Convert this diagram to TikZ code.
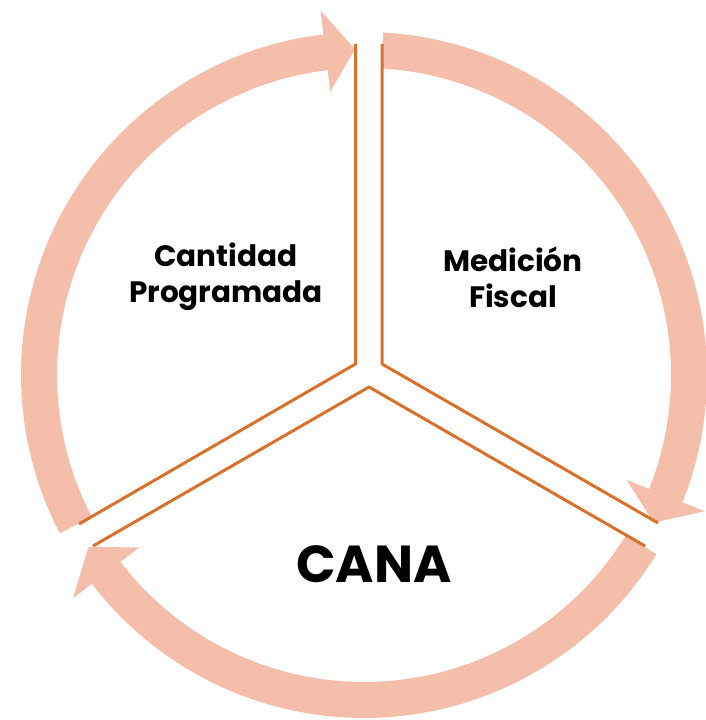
\documentclass[tikz,border=0pt]{standalone}
\usepackage{fontspec}
\setmainfont{Poppins}
\definecolor{salmon}{HTML}{F4BEAA}
\definecolor{rust}{HTML}{D9712B}
\begin{document}
\begin{tikzpicture}[x=1pt,y=1pt,
  arr/.style={fill=salmon,draw=none},
  sep/.style={draw=rust,line width=3pt,line join=miter},
  lbl/.style={font=\bfseries\fontsize{29.5}{36}\selectfont,align=center,text=black},
  big/.style={font=\bfseries\fontsize{52}{56}\selectfont,text=black}]
\useasboundingbox (0,0) rectangle (705,720);
\begin{scope}[shift={(364,345)}]
% arrow 1: top-right
\fill[arr] (86.8:343pt) arc[start angle=86.8,end angle=-21.8,radius=343pt]
  -- (-21.8:367pt) -- (-27:325pt) -- (-21.8:283pt) -- (-21.8:307pt)
  arc[start angle=-21.8,end angle=86.8,radius=307pt] -- cycle;
% arrow 2: bottom
\fill[arr] (-31.5:343pt) arc[start angle=-31.5,end angle=-142.5,radius=343pt]
  -- (-142.5:367pt) -- (-148:325pt) -- (-142.5:283pt) -- (-142.5:307pt)
  arc[start angle=-142.5,end angle=-31.5,radius=307pt] -- cycle;
% arrow 3: left
\fill[arr] (207.5:343pt) arc[start angle=207.5,end angle=96.8,radius=343pt]
  -- (96.8:367pt) -- (91.6:326pt) -- (96.8:285pt) -- (96.8:307pt)
  arc[start angle=96.8,end angle=207.5,radius=307pt] -- cycle;
\end{scope}
% separators
\coordinate (l1a) at (355.5,676); \coordinate (l1b) at (355.5,356); \coordinate (l1c) at (79,196);
\coordinate (l2a) at (382,676); \coordinate (l2b) at (382,356); \coordinate (l2c) at (658,197);
\coordinate (l3a) at (93,174); \coordinate (l3b) at (369,333); \coordinate (l3c) at (645,174);
\draw[sep] (l1a) -- (l1b) -- (l1c);
\draw[sep] (l2a) -- (l2b) -- (l2c);
\draw[sep] (l3a) -- (l3b) -- (l3c);
% labels
\node[lbl] (cp) at (226,443) {Cantidad\\Programada};
\node[lbl] (mf) at (513,443) {Medición\\Fiscal};
\node[big] (cana) at (374,156) {CANA};
\end{tikzpicture}
\end{document}
